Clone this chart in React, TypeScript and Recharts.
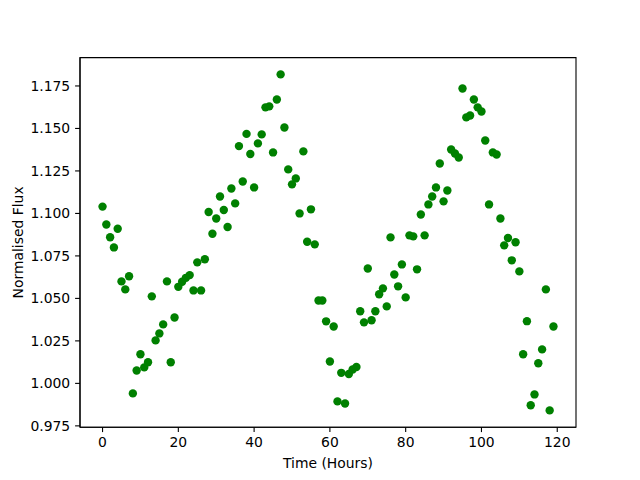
import { ScatterChart, Scatter, XAxis, YAxis, ReferenceArea } from 'recharts'

// Observation times (hours) and normalised flux readings
const hours = [
  0, 1, 2, 3, 4, 5, 6, 7, 8, 9, 10, 11, 12, 13, 14, 15, 16, 17, 18, 19,
  20, 21, 22, 23, 24, 25, 26, 27, 28, 29, 30, 31, 32, 33, 34, 35, 36, 37, 38, 39,
  40, 41, 42, 43, 44, 45, 46, 47, 48, 49, 50, 51, 52, 53, 54, 55, 56, 57, 58, 59,
  60, 61, 62, 63, 64, 65, 66, 67, 68, 69, 70, 71, 72, 73, 74, 75, 76, 77, 78, 79,
  80, 81, 82, 83, 84, 85, 86, 87, 88, 89, 90, 91, 92, 93, 94, 95, 96, 97, 98, 99,
  100, 101, 102, 103, 104, 105, 106, 107, 108, 109, 110, 111, 112, 113, 114, 115, 116, 117, 118, 119,
]

const flux = [
  1.104, 1.0935, 1.086, 1.08, 1.091, 1.06, 1.0553, 1.063, 0.9941, 1.0076,
  1.0171, 1.0094, 1.0124, 1.0512, 1.0253, 1.0294, 1.0347, 1.06, 1.0124, 1.0388,
  1.0568, 1.0598, 1.0621, 1.0637, 1.0547, 1.0712, 1.0547, 1.073, 1.1008, 1.088,
  1.097, 1.11, 1.102, 1.092, 1.1147, 1.1059, 1.1396, 1.1188, 1.1468, 1.135,
  1.1153, 1.1412, 1.1465, 1.1624, 1.163, 1.1359, 1.167, 1.1818, 1.1506, 1.1259,
  1.1171, 1.1206, 1.1, 1.1365, 1.0833, 1.1024, 1.0818, 1.0488, 1.0488, 1.0365,
  1.0129, 1.0335, 0.9894, 1.0062, 0.9882, 1.0055, 1.0082, 1.0096, 1.0424, 1.0359,
  1.0676, 1.0371, 1.0424, 1.0524, 1.0559, 1.0453, 1.0859, 1.0641, 1.0571, 1.07,
  1.0506, 1.0871, 1.0865, 1.0671, 1.0994, 1.0871, 1.1053, 1.11, 1.1153, 1.1294,
  1.1071, 1.1135, 1.1376, 1.1353, 1.1329, 1.1735, 1.1565, 1.1576, 1.167, 1.1624,
  1.16, 1.1429, 1.1053, 1.1359, 1.1347, 1.097, 1.0812, 1.0855, 1.0724, 1.083,
  1.0659, 1.0171, 1.0366, 0.9871, 0.9935, 1.0118, 1.02, 1.0553, 0.9841, 1.0335,
]

const xTicks = [0, 20, 40, 60, 80, 100, 120]
const yTicks = [0.975, 1.0, 1.025, 1.05, 1.075, 1.1, 1.125, 1.15, 1.175]

const X_DOMAIN: [number, number] = [-5.95, 124.95]
const Y_DOMAIN: [number, number] = [0.974215, 1.191685]

const FONT = 'DejaVu Sans, sans-serif'
const tickStyle = { fontSize: 13.9, fill: '#000', fontFamily: FONT }

export default function App() {
  const data = hours.map((h, i) => ({ time: h, flux: flux[i] }))

  return (
    <div style={{ position: 'absolute', left: 0, top: 0, background: '#fff' }}>
      <ScatterChart
        width={640}
        height={480}
        margin={{ top: 57.6, right: 64, bottom: 0, left: 0 }}
      >
        <XAxis
          type="number"
          dataKey="time"
          domain={X_DOMAIN}
          ticks={xTicks}
          height={52.8}
          tick={tickStyle}
          tickSize={4.9}
          tickMargin={4.9}
          tickLine={{ stroke: '#000', strokeWidth: 1.1 }}
          axisLine={{ stroke: '#000', strokeWidth: 1.1 }}
          allowDataOverflow
          label={{
            content: () => (
              <text x={328} y={463} textAnchor="middle" dominantBaseline="central" fontSize={13.9} fontFamily={FONT} fill="#000">
                Time (Hours)
              </text>
            ),
          }}
        />
        <YAxis
          type="number"
          dataKey="flux"
          domain={Y_DOMAIN}
          ticks={yTicks}
          width={80}
          tick={tickStyle}
          tickFormatter={(v: number) => v.toFixed(3)}
          tickSize={4.9}
          tickMargin={4.9}
          tickLine={{ stroke: '#000', strokeWidth: 1.1 }}
          axisLine={{ stroke: '#000', strokeWidth: 1.1 }}
          allowDataOverflow
          label={{
            content: () => (
              <text
                x={18}
                y={242.4}
                transform="rotate(-90 18 242.4)"
                textAnchor="middle"
                dominantBaseline="central"
                fontSize={13.9}
                fontFamily={FONT}
                fill="#000"
              >
                Normalised Flux
              </text>
            ),
          }}
        />
        {/* full box frame like matplotlib spines */}
        <ReferenceArea
          x1={X_DOMAIN[0]}
          x2={X_DOMAIN[1]}
          y1={Y_DOMAIN[0]}
          y2={Y_DOMAIN[1]}
          fill="none"
          stroke="#000"
          strokeWidth={1.1}
          ifOverflow="visible"
        />
        <Scatter
          data={data}
          isAnimationActive={false}
          shape={(p: any) => <circle cx={p.cx} cy={p.cy} r={4.2} fill="#008000" />}
        />
      </ScatterChart>
    </div>
  )
}
